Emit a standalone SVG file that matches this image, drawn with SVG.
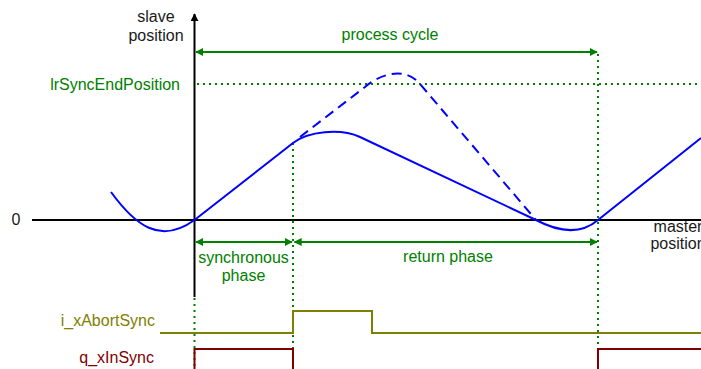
<svg xmlns="http://www.w3.org/2000/svg" width="701" height="369" viewBox="0 0 701 369">
<defs>
<style>
text{font-family:"Liberation Sans",Arial,sans-serif;font-size:16px}
.blk{fill:#1a1a1a}
.grn{fill:#008000}
.olv{fill:#808000}
.red{fill:#800000}
.axis{stroke:#000;stroke-width:2;fill:none}
.dot{stroke:#008000;stroke-width:2;stroke-dasharray:2 4;fill:none}
.dim{stroke:#008000;stroke-width:2;fill:none}
.curve{stroke:#0000ff;stroke-width:2;fill:none}
.dash{stroke-dasharray:10 6}
</style>
<marker id="ga" viewBox="0 0 10 10" refX="9" refY="5" markerWidth="4" markerHeight="4" orient="auto-start-reverse" markerUnits="strokeWidth"><path d="M0,0 L10,5 L0,10 Z" fill="#008000"/></marker>
<marker id="ka" viewBox="0 0 10 10" refX="9" refY="5" markerWidth="4" markerHeight="4" orient="auto" markerUnits="strokeWidth"><path d="M0,0 L10,5 L0,10 Z" fill="#000"/></marker>
</defs>
<g id="guides">
<path class="dot" d="M197,84 H701"/>
<path class="dot" d="M293,143 V369"/>
<path class="dot" d="M598,54 V369"/>
<path class="dot" d="M194.5,298 V369"/>
</g>
<g id="axes">
<path class="axis" d="M32,220 H701"/>
<path class="axis" d="M194.5,297 V14" marker-end="url(#ka)"/>
<text class="blk" x="156" y="22" text-anchor="middle">slave</text>
<text class="blk" x="156" y="41" text-anchor="middle">position</text>
<text class="blk" x="16" y="225" text-anchor="middle">0</text>
<text class="blk" x="678" y="232" text-anchor="middle">master</text>
<text class="blk" x="678" y="249" text-anchor="middle">position</text>
</g>
<g id="curves">
<path class="curve" d="M111,192 C135,225 160,245 194.5,220 L293,143 C308,131.3 340,128 360,137 L536,220 C553,229 578,237 598,220 L701,138"/>
<path class="curve dash" d="M300,137 L365,87 C380,74 405,66 420,84 L536,220"/>
</g>
<g id="lrSyncEndPosition">
<text class="grn" x="180" y="90" text-anchor="end">lrSyncEndPosition</text>
</g>
<g id="connectors">
<path class="dim" d="M196,52 H597" marker-start="url(#ga)" marker-end="url(#ga)"/>
<path class="dim" d="M196,242 H292" marker-start="url(#ga)" marker-end="url(#ga)"/>
<path class="dim" d="M294.5,242 H597" marker-start="url(#ga)" marker-end="url(#ga)"/>
</g>
<g id="process-cycle"><text class="grn" x="390" y="40" text-anchor="middle">process cycle</text></g>
<g id="synchronous-phase">
<text class="grn" x="243.5" y="263" text-anchor="middle">synchronous</text>
<text class="grn" x="243.5" y="281" text-anchor="middle">phase</text>
</g>
<g id="return-phase"><text class="grn" x="448" y="262" text-anchor="middle">return phase</text></g>
<g id="i_xAbortSync">
<text class="olv" x="155" y="326" text-anchor="end">i_xAbortSync</text>
<path d="M160,333 H293 V311 H372 V333 H701" stroke="#808000" stroke-width="2" fill="none"/>
</g>
<g id="q_xInSync">
<text class="red" x="154" y="363" text-anchor="end">q_xInSync</text>
<path d="M194.5,372 V349 H293 V372 M598,372 V349 H701" stroke="#800000" stroke-width="2" fill="none"/>
</g>
</svg>
